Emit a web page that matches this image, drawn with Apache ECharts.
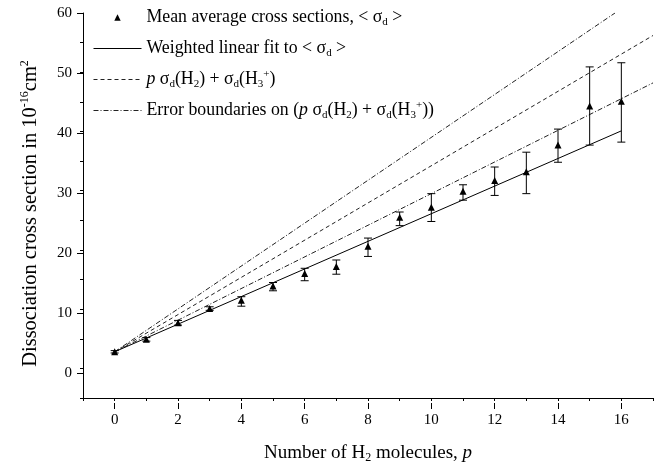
<!DOCTYPE html>
<html>
<head>
<meta charset="utf-8">
<script src="https://cdn.jsdelivr.net/npm/echarts@6/dist/echarts.min.js"></script>
<style>
html,body{margin:0;padding:0;background:#fff;}
#chart{width:666px;height:469px;}
</style>
</head>
<body>
<div id="chart"></div>
<script>
// ---- data ----
const pValues   = [0, 1, 2, 3, 4, 5, 6, 7, 8, 9, 10, 11, 12, 13, 14, 15, 16];
const meanCross = [2.8, 4.9, 7.7, 10.1, 11.5, 13.9, 16.0, 17.2, 20.6, 25.5, 27.2, 29.9, 31.7, 33.2, 37.7, 44.3, 45.1];
const errLow    = [2.6, 4.6, 7.3, 9.8, 10.5, 13.1, 14.8, 15.9, 18.9, 24.1, 24.8, 28.4, 29.2, 29.5, 34.8, 37.7, 38.2];
const errHigh   = [3.0, 5.2, 8.1, 10.4, 12.1, 14.5, 16.9, 18.3, 22.0, 26.4, 29.5, 31.0, 34.0, 36.5, 40.4, 50.9, 51.6];
const fitLine    = [[0, 2.8], [16, 40.1]];
const theoryLine = [[0, 2.8], [17, 56.2]];
const lowerBound = [[0, 2.8], [17, 48.2]];
const upperBound = [[0, 2.8], [15.8, 60]];
const xTickLabels = [0, 2, 4, 6, 8, 10, 12, 14, 16];
const yTickLabels = [0, 10, 20, 30, 40, 50, 60];

const legendText = {
  mean: 'Mean average cross sections, < σ{sub|d} >',
  fit: 'Weighted linear fit to < σ{sub|d} >',
  theory: '{i|p} σ{sub|d}(H{sub|2}) + σ{sub|d}(H{sub|3}{sup|+})',
  bounds: 'Error boundaries on ({i|p} σ{sub|d}(H{sub|2}) + σ{sub|d}(H{sub|3}{sup|+}))'
};

const FONT = 'Liberation Serif';
const chart = echarts.init(document.getElementById('chart'), null, {renderer: 'canvas'});

const W = 666, H = 469;
const gLeft = 83, gRight = 13, gTop = 13, gBottom = 66;
const xMin = -1, xMax = 17, yMin = -5, yMax = 60;
const pxX = (W - gLeft - gRight) / (xMax - xMin);
const pxY = (H - gTop - gBottom) / (yMax - yMin);

const black = '#000';
const LF = 17.8;
const richBase = {
  sub: {fontSize: 11, fontFamily: FONT, verticalAlign: 'bottom', lineHeight: 10, color: black},
  sup: {fontSize: 11, fontFamily: FONT, verticalAlign: 'top', lineHeight: 10, color: black},
  i: {fontSize: LF, fontFamily: FONT, fontStyle: 'italic', color: black, lineHeight: 21}
};

chart.setOption({
  animation: false,
  backgroundColor: '#fff',
  grid: [
    {left: gLeft, right: gRight, top: gTop, bottom: gBottom},
    {left: gLeft, right: gRight, top: gTop, bottom: gBottom + (0 - yMin) * pxY},
    {left: gLeft + (xTickLabels[0] - xMin) * pxX, right: gRight + (xMax - xTickLabels[xTickLabels.length - 1]) * pxX, top: gTop, bottom: gBottom}
  ],
  xAxis: [
    {
      type: 'value', gridIndex: 0, min: xMin, max: xMax, interval: 1,
      axisLine: {onZero: false, lineStyle: {color: black, width: 1}},
      axisTick: {length: 3, lineStyle: {color: black}},
      axisLabel: {show: false},
      splitLine: {show: false},
      name: 'Number of H{sub|2} molecules, {i|p}',
      nameLocation: 'middle', nameGap: 44,
      nameTextStyle: {
        fontFamily: FONT, fontSize: 19, color: black, lineHeight: 22,
        rich: {
          sub: {fontSize: 12, fontFamily: FONT, verticalAlign: 'bottom', lineHeight: 12, color: black},
          i: {fontSize: 19, fontFamily: FONT, fontStyle: 'italic', color: black, lineHeight: 22}
        }
      }
    },
    {type: 'value', gridIndex: 1, min: xMin, max: xMax, show: false},
    {
      type: 'value', gridIndex: 2, min: xTickLabels[0], max: xTickLabels[xTickLabels.length - 1], interval: 2,
      axisLine: {show: false, onZero: false},
      axisTick: {length: 6, lineStyle: {color: black}},
      axisLabel: {fontFamily: FONT, fontSize: 15, color: black, margin: 10},
      splitLine: {show: false}
    }
  ],
  yAxis: [
    {
      type: 'value', gridIndex: 0, min: yMin, max: yMax, interval: 5,
      axisLine: {onZero: false, lineStyle: {color: black, width: 1}},
      axisTick: {length: 3, lineStyle: {color: black}},
      axisLabel: {show: false},
      splitLine: {show: false},
      name: 'Dissociation cross section in 10{sup|-16}cm{sup|2}',
      nameLocation: 'middle', nameGap: 40, nameRotate: 90,
      nameTextStyle: {
        fontFamily: FONT, fontSize: 20.5, color: black, lineHeight: 24,
        padding: [0, 16, 0, 0],
        rich: {
          sup: {fontSize: 12, fontFamily: FONT, verticalAlign: 'top', lineHeight: 12, color: black}
        }
      }
    },
    {
      type: 'value', gridIndex: 1, min: yTickLabels[0], max: yTickLabels[yTickLabels.length - 1], interval: 10,
      axisLine: {show: false, onZero: false},
      axisTick: {length: 6, lineStyle: {color: black}},
      axisLabel: {fontFamily: FONT, fontSize: 15, color: black, margin: 11},
      splitLine: {show: false}
    },
    {type: 'value', gridIndex: 2, min: yMin, max: yMax, show: false}
  ],
  legend: {
    orient: 'vertical', left: 88, top: 2,
    itemWidth: 48, itemHeight: 8, itemGap: 10,
    lineStyle: {width: 1},
    data: [
      {name: 'mean'},
      {name: 'fit', itemStyle: {opacity: 0}},
      {name: 'theory', itemStyle: {opacity: 0}},
      {name: 'bounds', itemStyle: {opacity: 0}}
    ],
    formatter: n => legendText[n],
    textStyle: {fontFamily: FONT, fontSize: LF, color: black, lineHeight: 21, rich: richBase},
    selectedMode: false
  },
  series: [
    {
      name: 'bounds', type: 'line', data: upperBound, symbol: 'none',
      itemStyle: {color: '#222'},
      lineStyle: {color: '#222', width: 1, type: [5, 2, 1, 2]}, z: 2
    },
    {
      name: 'bounds', type: 'line', data: lowerBound, symbol: 'none',
      itemStyle: {color: '#222'},
      lineStyle: {color: '#222', width: 1, type: [5, 2, 1, 2]}, z: 2
    },
    {
      name: 'theory', type: 'line', data: theoryLine, symbol: 'none',
      itemStyle: {color: '#222'},
      lineStyle: {color: '#222', width: 1, type: [4, 3]}, z: 2
    },
    {
      name: 'fit', type: 'line', data: fitLine, symbol: 'none',
      itemStyle: {color: black},
      lineStyle: {color: black, width: 1, type: 'solid'}, z: 2
    },
    {
      name: 'errbars', type: 'custom',
      data: pValues.map((p, i) => [p, errLow[i], errHigh[i]]),
      encode: {x: 0, y: [1, 2]},
      renderItem: function (params, api) {
        const x = api.value(0);
        const lo = api.coord([x, api.value(1)]);
        const hi = api.coord([x, api.value(2)]);
        const w = 4;
        const st = {stroke: black, lineWidth: 1};
        return {
          type: 'group',
          children: [
            {type: 'line', shape: {x1: lo[0], y1: lo[1], x2: hi[0], y2: hi[1]}, style: st},
            {type: 'line', shape: {x1: lo[0] - w, y1: lo[1], x2: lo[0] + w, y2: lo[1]}, style: st},
            {type: 'line', shape: {x1: hi[0] - w, y1: hi[1], x2: hi[0] + w, y2: hi[1]}, style: st}
          ]
        };
      },
      z: 3
    },
    {
      // points only: the connecting line is made invisible
      name: 'mean', type: 'line',
      data: pValues.map((p, i) => [p, meanCross[i]]),
      symbol: 'triangle', symbolSize: 7, showSymbol: true, showAllSymbol: true,
      lineStyle: {opacity: 0, width: 0},
      itemStyle: {color: black, borderWidth: 0}, z: 4
    }
  ]
});
</script>
</body>
</html>
